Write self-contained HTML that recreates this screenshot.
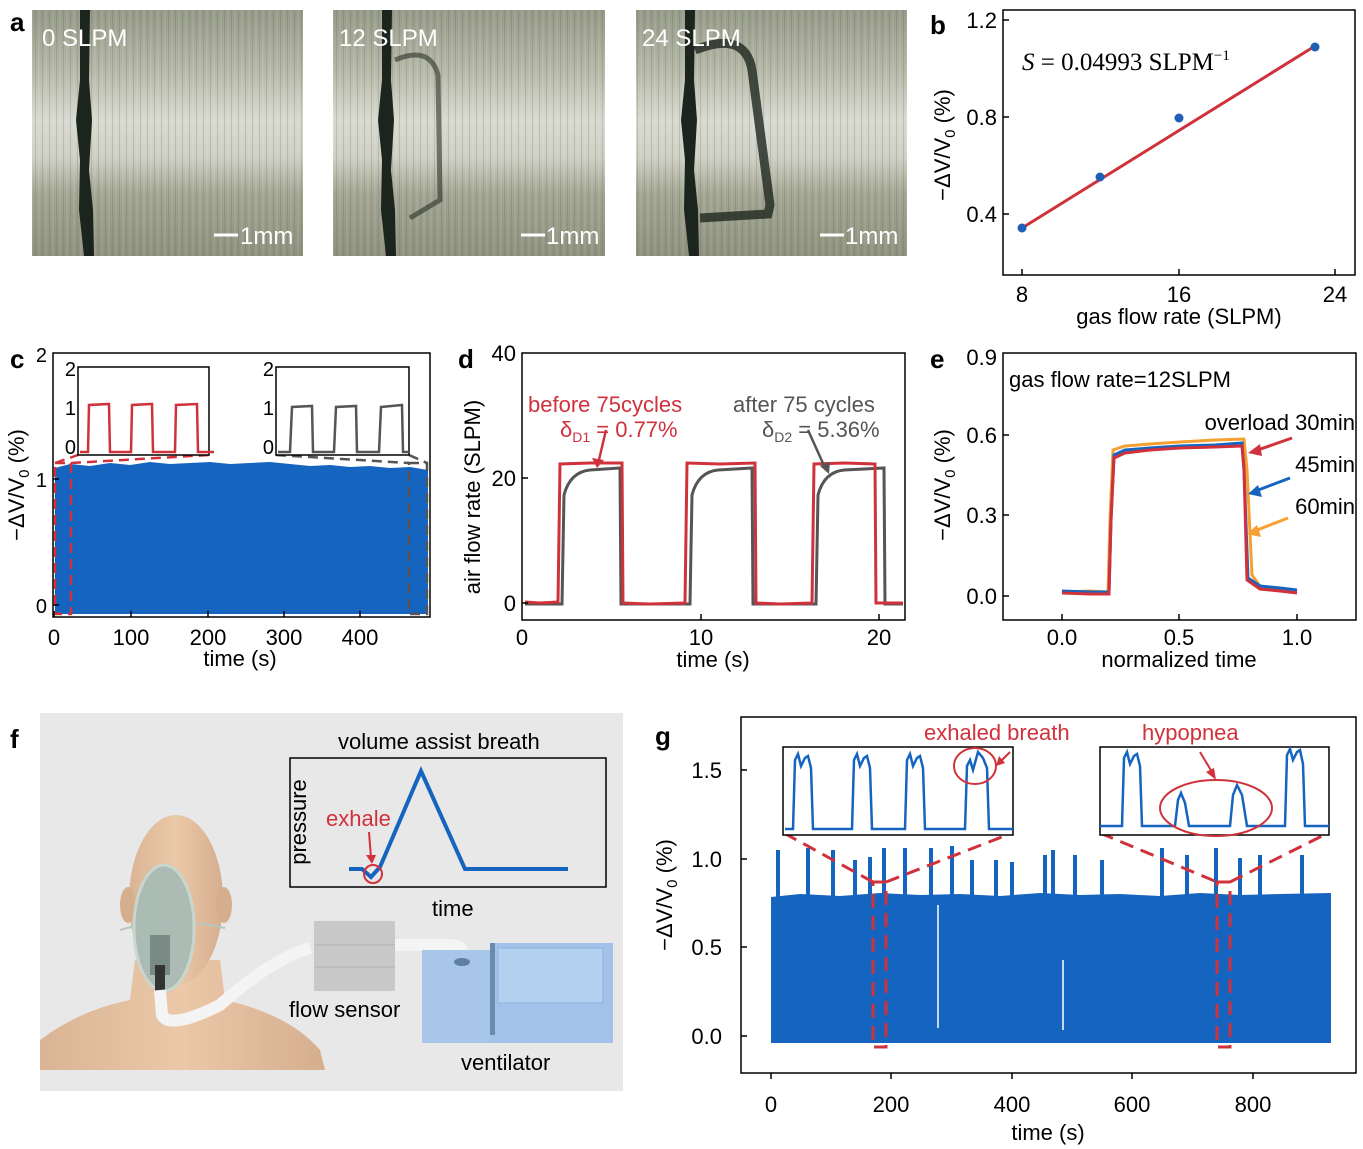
<!DOCTYPE html>
<html><head><meta charset="utf-8"><style>
html,body{margin:0;padding:0;background:#fff}
svg{display:block}
text{font-family:"Liberation Sans",Arial,sans-serif}
</style></head><body>
<svg width="1363" height="1149" viewBox="0 0 1363 1149" xmlns="http://www.w3.org/2000/svg">
<defs>
<linearGradient id="ph" x1="0" y1="0" x2="0" y2="1">
<stop offset="0" stop-color="#959987"/><stop offset="0.25" stop-color="#b6b9a8"/><stop offset="0.45" stop-color="#d8dad0"/><stop offset="0.6" stop-color="#cdcfc3"/><stop offset="0.75" stop-color="#a2a592"/><stop offset="1" stop-color="#8e917e"/>
</linearGradient>
<pattern id="str" width="7" height="10" patternUnits="userSpaceOnUse"><rect x="0" width="1" height="10" fill="#5a5e50" opacity="0.2"/><rect x="3.5" width="1" height="10" fill="#fff" opacity="0.15"/></pattern>
<linearGradient id="skin" x1="0" y1="0" x2="1" y2="0"><stop offset="0" stop-color="#d9b596"/><stop offset="0.5" stop-color="#ebc8a8"/><stop offset="1" stop-color="#d5ae8e"/></linearGradient>
</defs>
<!-- panel a -->
<g>
<rect x="32" y="10" width="271" height="246" fill="url(#ph)"/><rect x="32" y="10" width="271" height="246" fill="url(#str)"/>
<path d="M80 10 L90 10 L89 80 L92 120 L89 170 L93 210 L94 256 L84 256 L79 210 L80 160 L76 120 L80 80Z" fill="#1c241e"/>
<rect x="333" y="10" width="272" height="246" fill="url(#ph)"/><rect x="333" y="10" width="272" height="246" fill="url(#str)"/>
<path d="M382 10 L392 10 L391 80 L394 120 L391 170 L395 210 L396 256 L386 256 L381 210 L382 160 L378 120 L382 80Z" fill="#1c241e"/>
<path d="M395 60 Q430 45 438 75 L440 200 L410 218" stroke="#2a3228" stroke-width="5" fill="none" opacity="0.6"/>
<rect x="636" y="10" width="271" height="246" fill="url(#ph)"/><rect x="636" y="10" width="271" height="246" fill="url(#str)"/>
<path d="M685 10 L695 10 L694 80 L697 120 L694 170 L698 210 L699 256 L689 256 L684 210 L685 160 L681 120 L685 80Z" fill="#1c241e"/>
<path d="M695 50 Q745 30 752 70 L770 205 L768 214 L700 218" stroke="#1f271f" stroke-width="9" fill="none" opacity="0.8"/>
<g fill="#fff" font-size="24"><text x="42" y="46">0 SLPM</text><text x="339" y="46">12 SLPM</text><text x="642" y="46">24 SLPM</text>
<text x="240" y="244">1mm</text><text x="546" y="244">1mm</text><text x="845" y="244">1mm</text></g>
<g stroke="#fff" stroke-width="3"><line x1="214" y1="235" x2="238" y2="235"/><line x1="521" y1="235" x2="545" y2="235"/><line x1="820" y1="235" x2="844" y2="235"/></g>
</g>
<g font-size="26" font-weight="bold" fill="#000"><text x="10" y="31">a</text><text x="930" y="34">b</text><text x="10" y="368">c</text><text x="458" y="368">d</text><text x="930" y="368">e</text><text x="10" y="748">f</text><text x="655" y="745">g</text></g>
<!-- panel b -->
<g>
<rect x="1003" y="10" width="352" height="265" fill="none" stroke="#000" stroke-width="1.5"/>
<line x1="1022" y1="228" x2="1315" y2="46" stroke="#d0323c" stroke-width="3"/>
<g fill="#1f5fb5"><circle cx="1022" cy="228" r="4.5"/><circle cx="1100" cy="177" r="4.5"/><circle cx="1179" cy="118" r="4.5"/><circle cx="1315" cy="47" r="4.5"/></g>
<g font-size="22" text-anchor="end"><text x="997" y="28">1.2</text><text x="997" y="125">0.8</text><text x="997" y="222">0.4</text></g>
<g stroke="#000" stroke-width="1.5"><line x1="1003" y1="20" x2="1009" y2="20"/><line x1="1003" y1="117" x2="1009" y2="117"/><line x1="1003" y1="214" x2="1009" y2="214"/><line x1="1022" y1="275" x2="1022" y2="269"/><line x1="1179" y1="275" x2="1179" y2="269"/><line x1="1335" y1="275" x2="1335" y2="269"/></g>
<g font-size="22" text-anchor="middle"><text x="1022" y="302">8</text><text x="1179" y="302">16</text><text x="1335" y="302">24</text><text x="1179" y="324">gas flow rate (SLPM)</text></g>
<text x="1022" y="70" style="font-family:'Liberation Serif',serif" font-size="25"><tspan font-style="italic">S</tspan> = 0.04993 SLPM<tspan font-size="15" dy="-10">−1</tspan></text>
<text transform="translate(950,145) rotate(-90)" font-size="22" text-anchor="middle">−ΔV/V<tspan font-size="15" dy="5">0</tspan><tspan dy="-5"> (%)</tspan></text>
</g>
<!-- panel c -->
<g>
<rect x="53" y="353" width="377" height="264" fill="none" stroke="#000" stroke-width="1.5"/>
<path d="M55 614 L55 468 L70 464 L90 466 L110 463 L130 465 L150 462 L170 464 L190 463 L210 462 L230 464 L250 463 L270 462 L290 464 L310 466 L330 465 L350 467 L370 466 L390 468 L410 467 L428 470 L428 614Z" fill="#1565c0"/>
<g fill="none" stroke="#d0323c" stroke-width="2.5" stroke-dasharray="10,6"><rect x="55" y="463" width="16" height="151"/><path d="M55 463 L78 455 M71 463 L209 455"/></g>
<g fill="none" stroke="#555" stroke-width="2.5" stroke-dasharray="10,6"><rect x="409" y="463" width="18" height="151"/><path d="M276 455 L409 463 M409 455 L427 463"/></g>
<rect x="78" y="367" width="131" height="88" fill="#fff" stroke="#000" stroke-width="1.5"/>
<rect x="276" y="367" width="133" height="88" fill="#fff" stroke="#000" stroke-width="1.5"/>
<path d="M80 452 L88 452 L89 405 L109 404 L110 452 L131 452 L132 405 L152 404 L153 452 L175 452 L176 405 L197 404 L198 452 L214 452" fill="none" stroke="#d0323c" stroke-width="2.5"/>
<path d="M278 452 L290 452 L292 407 L312 406 L313 452 L334 452 L336 407 L356 406 L357 452 L379 452 L381 407 L402 405 L403 452 L409 452" fill="none" stroke="#555" stroke-width="2.5"/>
<g font-size="20" text-anchor="end"><text x="47" y="362">2</text><text x="47" y="487">1</text><text x="47" y="613">0</text><text x="76" y="376">2</text><text x="76" y="415">1</text><text x="76" y="454">0</text><text x="274" y="376">2</text><text x="274" y="415">1</text><text x="274" y="454">0</text></g>
<g stroke="#000" stroke-width="1.5"><line x1="53" y1="479" x2="59" y2="479"/><line x1="53" y1="605" x2="59" y2="605"/><line x1="54" y1="617" x2="54" y2="611"/><line x1="131" y1="617" x2="131" y2="611"/><line x1="208" y1="617" x2="208" y2="611"/><line x1="284" y1="617" x2="284" y2="611"/><line x1="360" y1="617" x2="360" y2="611"/></g>
<g font-size="22" text-anchor="middle"><text x="54" y="645">0</text><text x="131" y="645">100</text><text x="208" y="645">200</text><text x="284" y="645">300</text><text x="360" y="645">400</text><text x="240" y="666">time (s)</text></g>
<text transform="translate(24,485) rotate(-90)" font-size="22" text-anchor="middle">−ΔV/V<tspan font-size="15" dy="5">0</tspan><tspan dy="-5"> (%)</tspan></text>
</g>
<!-- panel d -->
<g>
<rect x="522" y="353" width="383" height="267" fill="none" stroke="#000" stroke-width="1.5"/>
<path d="M525 604 L562 604 L564 495 Q570 472 590 470 L620 468 L621 604 L690 604 L692 495 Q698 472 718 470 L752 468 L753 604 L816 604 L818 495 Q824 472 844 470 L884 468 L885 604 L903 604" fill="none" stroke="#555" stroke-width="3"/>
<path d="M525 602 L540 603 L558 602 L560 464 L590 463 L622 463 L623 603 L650 604 L685 603 L687 463 L720 464 L755 463 L756 603 L780 604 L812 603 L814 464 L845 463 L875 464 L876 603 L903 603" fill="none" stroke="#d0323c" stroke-width="3"/>
<g font-size="22" text-anchor="end"><text x="516" y="361">40</text><text x="516" y="486">20</text><text x="516" y="611">0</text></g>
<g stroke="#000" stroke-width="1.5"><line x1="522" y1="478" x2="528" y2="478"/><line x1="522" y1="603" x2="528" y2="603"/><line x1="701" y1="620" x2="701" y2="614"/><line x1="879" y1="620" x2="879" y2="614"/></g>
<g font-size="22" text-anchor="middle"><text x="522" y="645">0</text><text x="701" y="645">10</text><text x="879" y="645">20</text><text x="713" y="667">time (s)</text></g>
<text transform="translate(480,497) rotate(-90)" font-size="22" text-anchor="middle">air flow rate (SLPM)</text>
<text x="528" y="412" font-size="22" fill="#d0323c">before 75cycles</text>
<text x="560" y="437" font-size="22" fill="#d0323c">δ<tspan font-size="14" dy="5">D1</tspan><tspan dy="-5"> = 0.77%</tspan></text>
<text x="733" y="412" font-size="22" fill="#555">after 75 cycles</text>
<text x="762" y="437" font-size="22" fill="#555">δ<tspan font-size="14" dy="5">D2</tspan><tspan dy="-5"> = 5.36%</tspan></text>
<path d="M606 430 L598 464" stroke="#d0323c" stroke-width="2.5"/><path d="M592 458 L597 468 L604 460Z" fill="#d0323c"/>
<path d="M808 430 L826 470" stroke="#555" stroke-width="2.5"/><path d="M820 466 L829 474 L830 462Z" fill="#555"/>
</g>
<!-- panel e -->
<g>
<rect x="1003" y="353" width="353" height="267" fill="none" stroke="#000" stroke-width="1.5"/>
<path d="M1062 592 L1090 591 L1108 592 L1110 520 L1113 450 L1125 446 L1150 444 L1180 442 L1215 440 L1244 439 L1247 470 L1252 575 L1260 586 L1280 590 L1297 592" fill="none" stroke="#f5a030" stroke-width="3"/>
<path d="M1062 591 L1090 592 L1109 592 L1111 520 L1114 455 L1125 450 L1150 448 L1180 446 L1215 445 L1242 443 L1244 470 L1248 578 L1260 586 L1280 588 L1297 590" fill="none" stroke="#1565c0" stroke-width="3"/>
<path d="M1062 593 L1090 594 L1109 594 L1111 520 L1114 458 L1125 453 L1150 450 L1180 448 L1215 447 L1242 446 L1244 470 L1247 580 L1260 589 L1280 591 L1297 593" fill="none" stroke="#d0323c" stroke-width="3"/>
<g font-size="22" text-anchor="end"><text x="997" y="365">0.9</text><text x="997" y="443">0.6</text><text x="997" y="523">0.3</text><text x="997" y="604">0.0</text></g>
<g stroke="#000" stroke-width="1.5"><line x1="1003" y1="435" x2="1009" y2="435"/><line x1="1003" y1="515" x2="1009" y2="515"/><line x1="1003" y1="596" x2="1009" y2="596"/><line x1="1062" y1="620" x2="1062" y2="614"/><line x1="1179" y1="620" x2="1179" y2="614"/><line x1="1297" y1="620" x2="1297" y2="614"/></g>
<g font-size="22" text-anchor="middle"><text x="1062" y="645">0.0</text><text x="1179" y="645">0.5</text><text x="1297" y="645">1.0</text><text x="1179" y="667">normalized time</text></g>
<text transform="translate(950,485) rotate(-90)" font-size="22" text-anchor="middle">−ΔV/V<tspan font-size="15" dy="5">0</tspan><tspan dy="-5"> (%)</tspan></text>
<text x="1009" y="387" font-size="22">gas flow rate=12SLPM</text>
<g font-size="22" text-anchor="end"><text x="1355" y="430">overload 30min</text><text x="1355" y="472">45min</text><text x="1355" y="514">60min</text></g>
<path d="M1292 438 L1252 452" stroke="#d0323c" stroke-width="3"/><path d="M1248 453 L1260 444 L1262 456Z" fill="#d0323c"/>
<path d="M1290 478 L1253 492" stroke="#1565c0" stroke-width="3"/><path d="M1248 494 L1258 485 L1262 497Z" fill="#1565c0"/>
<path d="M1288 518 L1252 532" stroke="#f5a030" stroke-width="3"/><path d="M1247 534 L1257 525 L1261 537Z" fill="#f5a030"/>
</g>
<!-- panel f -->
<g>
<rect x="40" y="713" width="583" height="378" fill="#e8e8e8"/>
<path d="M40 1040 Q80 1010 130 1000 L135 960 L220 960 L225 1000 Q290 1015 320 1050 L325 1070 L40 1070Z" fill="url(#skin)"/>
<ellipse cx="176" cy="900" rx="47" ry="85" fill="url(#skin)"/>
<ellipse cx="128" cy="905" rx="8" ry="18" fill="#d5ae8e"/><ellipse cx="224" cy="905" rx="8" ry="18" fill="#d5ae8e"/>
<path d="M120 930 Q170 915 225 928" stroke="#b8c6c0" stroke-width="2" fill="none"/>
<ellipse cx="164" cy="928" rx="30" ry="63" fill="#a9bcb5" stroke="#c8d8d0" stroke-width="3" opacity="0.95"/>
<rect x="150" y="935" width="20" height="40" fill="#7a8a85"/><rect x="155" y="965" width="10" height="28" fill="#333"/>
<path d="M160 990 L162 1015 Q170 1030 220 1005 Q270 960 310 948" stroke="#f4f4f4" stroke-width="12" fill="none"/>
<rect x="314" y="921" width="81" height="70" fill="#c8c8c8"/><line x1="314" y1="945" x2="395" y2="945" stroke="#b5b5b5"/><line x1="314" y1="967" x2="395" y2="967" stroke="#b5b5b5"/>
<path d="M395 945 L450 945 Q465 945 465 960" stroke="#f4f4f4" stroke-width="12" fill="none"/>
<rect x="422" y="950" width="72" height="93" fill="#a8c6ea"/>
<rect x="490" y="943" width="123" height="100" fill="#a2c2ea"/>
<rect x="498" y="948" width="105" height="55" fill="#b4d0f0" stroke="#8fb2dc"/>
<rect x="490" y="943" width="5" height="92" fill="#6a8aae"/>
<ellipse cx="462" cy="962" rx="8" ry="4" fill="#5f7fa3"/>
<rect x="290" y="758" width="316" height="129" fill="none" stroke="#000" stroke-width="1.5"/>
<path d="M349 869 L362 869 L371 877 L380 867 L421 771 L465 869 L568 869" fill="none" stroke="#1565c0" stroke-width="4"/>
<circle cx="373" cy="874" r="9" fill="none" stroke="#d0323c" stroke-width="2"/>
<path d="M369 832 L371 858" stroke="#d0323c" stroke-width="2"/><path d="M366 855 L372 864 L376 855Z" fill="#d0323c"/>
<text x="326" y="826" font-size="22" fill="#d0323c">exhale</text>
<g font-size="22"><text x="338" y="749">volume assist breath</text><text x="432" y="916">time</text><text x="289" y="1017">flow sensor</text><text x="461" y="1070">ventilator</text></g>
<text transform="translate(306,822) rotate(-90)" font-size="22" text-anchor="middle">pressure</text>
</g>
<!-- panel g -->
<g>
<rect x="741" y="717" width="615" height="356" fill="none" stroke="#000" stroke-width="1.5"/>
<path d="M771 1043 L771 897 L800 894 L840 896 L880 893 L920 895 L960 894 L1000 896 L1040 893 L1080 895 L1120 894 L1160 896 L1200 893 L1240 895 L1280 894 L1331 893 L1331 1043Z" fill="#1565c0"/>
<g stroke="#1565c0" stroke-width="4">
<line x1="778" y1="900" x2="778" y2="850"/><line x1="808" y1="900" x2="808" y2="848"/><line x1="833" y1="900" x2="833" y2="850"/><line x1="855" y1="900" x2="855" y2="860"/><line x1="870" y1="900" x2="870" y2="857"/><line x1="884" y1="900" x2="884" y2="848"/><line x1="905" y1="900" x2="905" y2="848"/><line x1="931" y1="900" x2="931" y2="848"/><line x1="952" y1="900" x2="952" y2="846"/><line x1="972" y1="900" x2="972" y2="860"/><line x1="996" y1="900" x2="996" y2="860"/><line x1="1012" y1="900" x2="1012" y2="862"/><line x1="1045" y1="900" x2="1045" y2="855"/><line x1="1053" y1="900" x2="1053" y2="850"/><line x1="1075" y1="900" x2="1075" y2="855"/><line x1="1102" y1="900" x2="1102" y2="860"/><line x1="1162" y1="900" x2="1162" y2="848"/><line x1="1187" y1="900" x2="1187" y2="855"/><line x1="1216" y1="900" x2="1216" y2="848"/><line x1="1240" y1="900" x2="1240" y2="858"/><line x1="1260" y1="900" x2="1260" y2="855"/><line x1="1302" y1="900" x2="1302" y2="855"/>
</g>
<g stroke="#fff" stroke-width="1.5"><line x1="938" y1="905" x2="938" y2="1028"/><line x1="1063" y1="960" x2="1063" y2="1030"/></g>
<g fill="none" stroke="#d0323c" stroke-width="3" stroke-dasharray="14,8"><rect x="873" y="882" width="13" height="165"/><rect x="1217" y="882" width="13" height="165"/><path d="M784 833 L873 882 M886 882 L1012 833 M1100 833 L1217 882 M1230 882 L1328 833"/></g>
<rect x="783" y="747" width="230" height="88" fill="#fff" stroke="#000" stroke-width="1.5"/>
<rect x="1100" y="747" width="229" height="88" fill="#fff" stroke="#000" stroke-width="1.5"/>
<path d="M785 829 L793 829 L795 760 L798 754 L801 766 L805 758 L808 756 L811 768 L813 829 L852 829 L854 760 L857 754 L860 766 L864 758 L867 756 L870 768 L872 829 L905 829 L907 760 L910 754 L913 766 L917 758 L920 756 L923 768 L925 829 L965 829 L967 766 L970 760 L973 770 L978 752 L983 758 L987 768 L989 829 L1013 829" fill="none" stroke="#1565c0" stroke-width="2.5"/>
<path d="M1100 826 L1122 826 L1124 758 L1127 752 L1130 764 L1134 756 L1137 754 L1140 766 L1142 826 L1175 826 L1178 800 L1181 793 L1185 803 L1189 826 L1230 826 L1233 795 L1237 785 L1242 795 L1247 826 L1285 826 L1287 755 L1290 749 L1293 760 L1297 752 L1300 750 L1303 764 L1305 826 L1329 826" fill="none" stroke="#1565c0" stroke-width="2.5"/>
<ellipse cx="975" cy="766" rx="21" ry="18" fill="none" stroke="#d0323c" stroke-width="2"/>
<ellipse cx="1216" cy="808" rx="56" ry="28" fill="none" stroke="#d0323c" stroke-width="2"/>
<path d="M1010 752 L1000 762" stroke="#d0323c" stroke-width="2"/><path d="M996 766 L999 756 L1005 763Z" fill="#d0323c"/>
<path d="M1200 752 L1212 772" stroke="#d0323c" stroke-width="2"/><path d="M1216 780 L1206 772 L1214 768Z" fill="#d0323c"/>
<text x="924" y="740" font-size="22" fill="#d0323c">exhaled breath</text>
<text x="1142" y="740" font-size="22" fill="#d0323c">hypopnea</text>
<g font-size="22" text-anchor="end"><text x="722" y="778">1.5</text><text x="722" y="867">1.0</text><text x="722" y="955">0.5</text><text x="722" y="1044">0.0</text></g>
<g stroke="#000" stroke-width="1.5"><line x1="741" y1="770" x2="747" y2="770"/><line x1="741" y1="859" x2="747" y2="859"/><line x1="741" y1="947" x2="747" y2="947"/><line x1="741" y1="1036" x2="747" y2="1036"/><line x1="771" y1="1073" x2="771" y2="1079"/><line x1="891" y1="1073" x2="891" y2="1079"/><line x1="1012" y1="1073" x2="1012" y2="1079"/><line x1="1132" y1="1073" x2="1132" y2="1079"/><line x1="1253" y1="1073" x2="1253" y2="1079"/></g>
<g font-size="22" text-anchor="middle"><text x="771" y="1112">0</text><text x="891" y="1112">200</text><text x="1012" y="1112">400</text><text x="1132" y="1112">600</text><text x="1253" y="1112">800</text><text x="1048" y="1140">time (s)</text></g>
<text transform="translate(672,895) rotate(-90)" font-size="22" text-anchor="middle">−ΔV/V<tspan font-size="15" dy="5">0</tspan><tspan dy="-5"> (%)</tspan></text>
</g>
</svg>
</body></html>
